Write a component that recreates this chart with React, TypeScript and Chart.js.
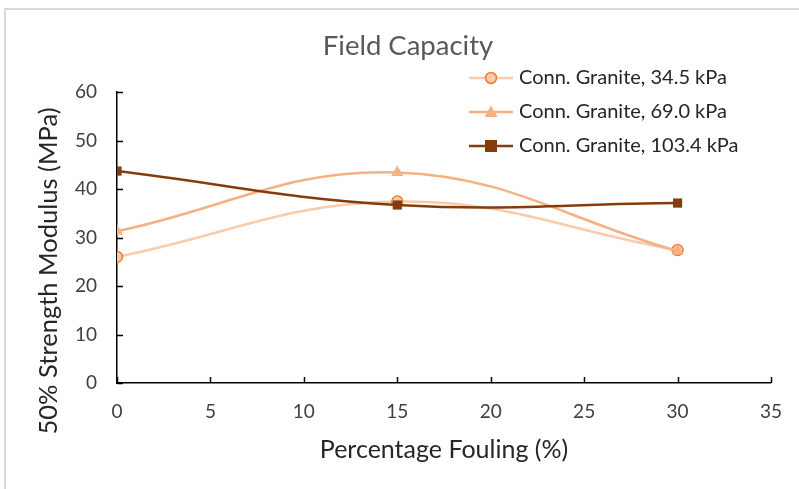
import React, { useEffect, useRef } from "react";
import { Chart, registerables } from "chart.js";

Chart.register(...registerables);

const FONT = "Lato, 'Open Sans', sans-serif";

const title = "Field Capacity";
const xTitle = "Percentage Fouling (%)";
const yTitle = "50% Strength Modulus (MPa)";

const fouling = [0, 15, 30];
const seriesNames = [
  "Conn. Granite, 34.5 kPa",
  "Conn. Granite, 69.0 kPa",
  "Conn. Granite, 103.4 kPa",
];
const s345 = [26.0, 37.4, 27.4];
const s690 = [31.3, 43.4, 27.2];
const s1034 = [43.7, 36.7, 37.1];

const xMin = 0, xMax = 35, xStep = 5;
const yMin = 0, yMax = 60, yStep = 10;

const lineColors = ["#F8CBAD", "#F4B183", "#843C0C"];
const markerFill = ["#F8CBAD", "#F4B183", "#843C0C"];
const markerBorder = ["#ED7D31", "#F4B183", "#843C0C"];
const markerStyle = ["circle", "triangle", "rect"];

function drawMarker(ctx: CanvasRenderingContext2D, style: string, x: number, y: number, fill: string, stroke: string) {
  ctx.save();
  ctx.fillStyle = fill;
  ctx.strokeStyle = stroke;
  ctx.lineWidth = 1.5;
  ctx.beginPath();
  if (style === "circle") {
    ctx.arc(x, y, 5.5, 0, Math.PI * 2);
    ctx.fill();
    ctx.stroke();
  } else if (style === "triangle") {
    ctx.moveTo(x, y - 6.5);
    ctx.lineTo(x + 6.5, y + 5);
    ctx.lineTo(x - 6.5, y + 5);
    ctx.closePath();
    ctx.fill();
  } else {
    ctx.rect(x - 6, y - 6, 12, 12);
    ctx.fill();
  }
  ctx.restore();
}

const decorPlugin = {
  id: "decor",
  beforeDraw(chart: any) {
    const ctx = chart.ctx;
    ctx.save();
    ctx.fillStyle = "#ffffff";
    ctx.fillRect(0, 0, chart.width, chart.height);
    ctx.strokeStyle = "#D9D9D9";
    ctx.lineWidth = 2;
    ctx.beginPath();
    ctx.moveTo(5, chart.height);
    ctx.lineTo(5, 9);
    ctx.lineTo(chart.width, 9);
    ctx.stroke();
    ctx.restore();
  },
  afterDraw(chart: any) {
    const ctx = chart.ctx;
    const xs = chart.scales.x;
    const ys = chart.scales.y;
    const area = chart.chartArea;
    ctx.save();
    // inside tick marks
    ctx.strokeStyle = "#000000";
    ctx.lineWidth = 1.5;
    ctx.beginPath();
    for (let v = xMin; v <= xMax; v += xStep) {
      const px = Math.round(xs.getPixelForValue(v)) + 0.5;
      ctx.moveTo(px, area.bottom);
      ctx.lineTo(px, area.bottom - 6);
    }
    for (let v = yMin; v <= yMax; v += yStep) {
      const py = Math.round(ys.getPixelForValue(v)) + 0.5;
      ctx.moveTo(area.left, py);
      ctx.lineTo(area.left + 6, py);
    }
    ctx.stroke();
    // chart title
    ctx.fillStyle = "#595959";
    ctx.font = `27.5px ${FONT}`;
    ctx.textAlign = "center";
    ctx.textBaseline = "middle";
    ctx.fillText(title, 408, 46);
    // y axis title
    ctx.save();
    ctx.translate(49, 271);
    ctx.rotate(-Math.PI / 2);
    ctx.fillStyle = "#262626";
    ctx.font = `25.5px ${FONT}`;
    ctx.textAlign = "center";
    ctx.textBaseline = "middle";
    ctx.fillText(yTitle, 0, 0);
    ctx.restore();
    // legend
    const rows = [78, 112, 146];
    chart.data.datasets.forEach((ds: any, i: number) => {
      const y = rows[i];
      ctx.strokeStyle = ds.borderColor;
      ctx.lineWidth = 2.5;
      ctx.beginPath();
      ctx.moveTo(469, y);
      ctx.lineTo(513, y);
      ctx.stroke();
      drawMarker(ctx, markerStyle[i], 491, y, markerFill[i], markerBorder[i]);
      ctx.fillStyle = "#262626";
      ctx.font = `20px ${FONT}`;
      ctx.textAlign = "left";
      ctx.textBaseline = "middle";
      ctx.fillText(ds.label, 519, y);
    });
    ctx.restore();
  },
};

export default function App() {
  const ref = useRef<HTMLCanvasElement>(null);
  useEffect(() => {
    document.body.style.margin = "0";
    const series = [s345, s690, s1034];
    const chart = new Chart(ref.current!, {
      type: "line",
      data: {
        datasets: series.map((vals, i) => ({
          label: seriesNames[i],
          data: fouling.map((x, j) => ({ x, y: vals[j] })),
          borderColor: lineColors[i],
          backgroundColor: markerFill[i],
          pointBackgroundColor: markerFill[i],
          pointBorderColor: markerBorder[i],
          pointBorderWidth: i === 0 ? 1.5 : 0,
          pointStyle: markerStyle[i] as any,
          pointRadius: i === 0 ? 5.5 : i === 1 ? 7 : 6.5,
          borderWidth: 2.5,
          tension: 0.4,
          fill: false,
          order: series.length - i,
        })),
      },
      options: {
        animation: false,
        responsive: false,
        devicePixelRatio: 1,
        layout: { padding: { top: 92, right: 27, left: 0, bottom: 0 } },
        plugins: {
          legend: { display: false },
          title: { display: false },
          tooltip: { enabled: false },
        },
        scales: {
          x: {
            type: "linear",
            min: xMin,
            max: xMax,
            afterFit: (s: any) => { s.height = 106; },
            ticks: {
              stepSize: xStep,
              color: "#404040",
              font: { family: FONT, size: 19 },
              padding: 17,
            },
            grid: { display: false, drawTicks: false },
            border: { display: true, color: "#000000", width: 1.5 },
            title: {
              display: true,
              text: xTitle,
              color: "#262626",
              font: { family: FONT, size: 25 },
              padding: { top: 0, bottom: 24 },
            },
          },
          y: {
            type: "linear",
            min: yMin,
            max: yMax,
            afterFit: (s: any) => { s.width = 117; },
            ticks: {
              stepSize: yStep,
              color: "#404040",
              font: { family: FONT, size: 19 },
              padding: 20,
            },
            grid: { display: false, drawTicks: false },
            border: { display: true, color: "#000000", width: 1.5 },
            title: { display: false },
          },
        },
      },
      plugins: [decorPlugin],
    });
    return () => chart.destroy();
  }, []);
  return (
    <div style={{ position: "absolute", left: 0, top: 0, width: 799, height: 489 }}>
      <canvas ref={ref} width={799} height={489} />
    </div>
  );
}
